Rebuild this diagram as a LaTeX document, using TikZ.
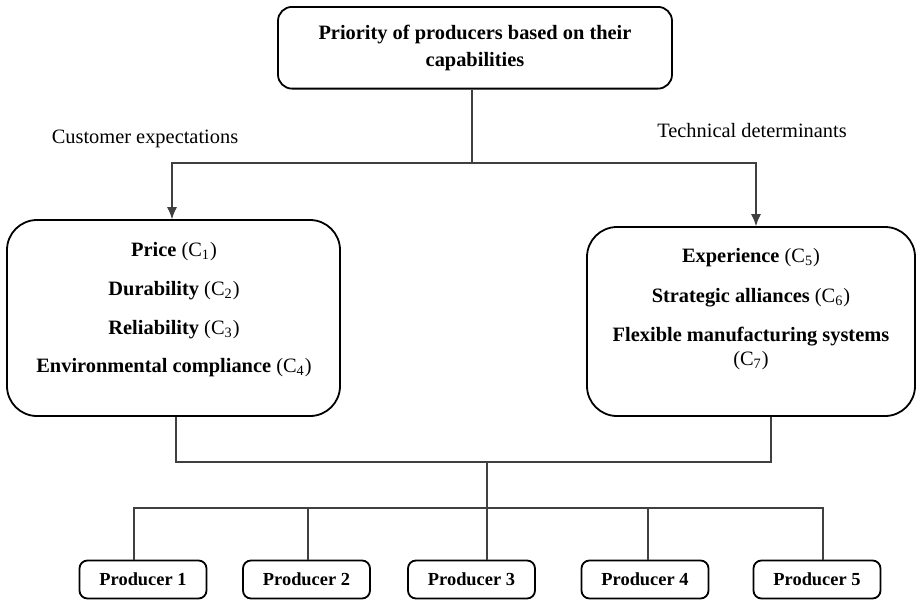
\documentclass[tikz,border=0pt]{standalone}
\usepackage{fontspec}
\setmainfont{Liberation Serif}
\usetikzlibrary{arrows.meta}

\begin{document}
\begin{tikzpicture}[x=0.5pt,y=-0.5pt,
        topbox/.style={draw,line width=0.9pt,rounded corners=7pt,align=center,anchor=north,
            minimum width=197pt,inner ysep=9pt,font=\bfseries\fontsize{10.2}{13.5}\selectfont},
        bigbox/.style={draw,line width=0.9pt,rounded corners=15pt},
        prodbox/.style={draw,line width=0.9pt,rounded corners=4pt,minimum width=63.5pt,
            minimum height=19pt,font=\bfseries\fontsize{9.2}{11}\selectfont},
        crit/.style={align=center,font=\fontsize{10.2}{12}\selectfont},
        link/.style={draw=black!75,line width=0.55pt},
        arrowlink/.style={link,-{Latex[length=6pt,width=5pt]}}]

    \useasboundingbox (0,0) rectangle (917,601);

    % goal
    \node[topbox] (goal) at (475,6) {Priority of producers based on their\\capabilities};

    % criteria groups
    \node[bigbox,minimum width=166.5pt,minimum height=98pt] (cust) at (173.5,318) {};
    \node[crit] (custtxt) at (174,310) {\textbf{Price} (C\textsubscript{1})\\[7.35pt]
        \textbf{Durability} (C\textsubscript{2})\\[7.35pt]
        \textbf{Reliability} (C\textsubscript{3})\\[7.35pt]
        \textbf{Environmental compliance} (C\textsubscript{4})};
    \node[bigbox,minimum width=164pt,minimum height=94.5pt] (tech) at (751,321.5) {};
    \node[crit] (techtxt) at (751,309.5) {\textbf{Experience} (C\textsubscript{5})\\[8pt]
        \textbf{Strategic alliances} (C\textsubscript{6})\\[7.5pt]
        \textbf{Flexible manufacturing systems}\\
        (C\textsubscript{7})};

    \node[crit,anchor=base] (custlbl) at (145,143) {Customer expectations};
    \node[crit,anchor=base] (techlbl) at (752,137) {Technical determinants};

    % alternatives
    \node[prodbox] (p1) at (143,579.5) {Producer 1};
    \node[prodbox] (p2) at (306.5,579.5) {Producer 2};
    \node[prodbox] (p3) at (471.5,579.5) {Producer 3};
    \node[prodbox] (p4) at (645,579.5) {Producer 4};
    \node[prodbox] (p5) at (817,579.5) {Producer 5};

    % connectors
    \coordinate (upbus) at (472,163);
    \coordinate (lowbus) at (487,462);
    \coordinate (prodbus) at (487,508);

    \draw[link] (goal.south -| upbus) -- (upbus);
    \draw[arrowlink] (upbus) -| ([xshift=-0.75pt]cust.north);
    \draw[arrowlink] (upbus) -| ([xshift=2.5pt]tech.north);

    \draw[link] ([xshift=1.25pt]cust.south) |- (lowbus);
    \draw[link] ([xshift=10pt]tech.south) |- (lowbus);
    \draw[link] (lowbus) -- ([xshift=7.75pt]p3.north);

    \draw[link] ([xshift=-4.5pt]p1.north) |- (prodbus) -| ([xshift=3pt]p5.north);
    \draw[link] ([xshift=0.75pt]p2.north) -- ([xshift=0.75pt]p2.north |- prodbus);
    \draw[link] ([xshift=1.5pt]p4.north) -- ([xshift=1.5pt]p4.north |- prodbus);
\end{tikzpicture}
\end{document}
